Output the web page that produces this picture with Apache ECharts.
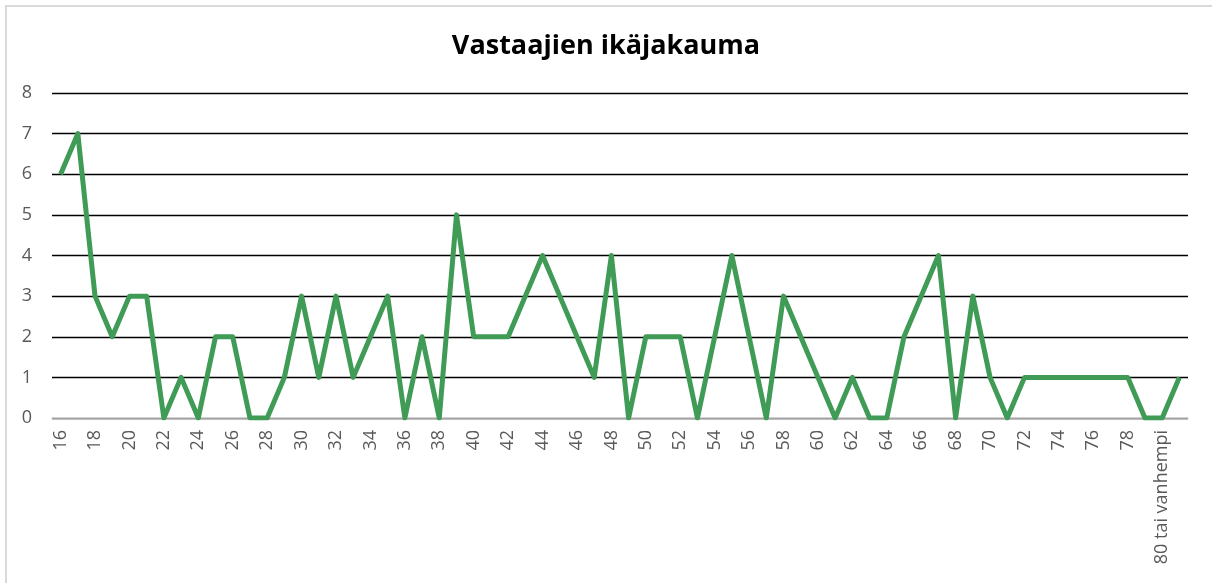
<!DOCTYPE html>
<html>
<head>
<meta charset="utf-8">
<title>Vastaajien ikäjakauma</title>
<script src="https://cdn.jsdelivr.net/npm/echarts@6/dist/echarts.min.js"></script>
<style>
  html, body { margin: 0; padding: 0; background: #fff; overflow: hidden; }
  .frame {
    position: absolute; left: 5px; top: 5px; width: 1300px; height: 700px;
    border-top: 2px solid #d9d9d9; border-left: 2px solid #d9d9d9;
  }
  #chart { position: absolute; left: 0; top: 0; width: 1212px; height: 583px; }
</style>
</head>
<body>
<div class="frame"></div>
<div id="chart"></div>
<script>
// ikäryhmät 16..79, "80 tai vanhempi" ja viimeinen (nimetön) luokka
const ages = []
for (let a = 16; a <= 79; a++) ages.push(String(a))
const categories = ages.concat(['80 tai vanhempi', ''])

const counts = [
  6, 7, 3, 2, 3, 3, 0, 1, 0, 2,
  2, 0, 0, 1, 3, 1, 3, 1, 2, 3,
  0, 2, 0, 5, 2, 2, 2, 3, 4, 3,
  2, 1, 4, 0, 2, 2, 2, 0, 2, 4,
  2, 0, 3, 2, 1, 0, 1, 0, 0, 2,
  3, 4, 0, 3, 1, 0, 1, 1, 1, 1,
  1, 1, 1, 0, 0, 1
]

const yTicks = { min: 0, max: 8, interval: 1 }

const chart = echarts.init(document.getElementById('chart'))
chart.setOption({
  animation: false,
  title: {
    text: 'Vastaajien ikäjakauma',
    left: 'center',
    top: 28,
    textStyle: {
      fontFamily: 'Open Sans',
      fontWeight: 'bold',
      fontSize: 27,
      color: '#000'
    }
  },
  grid: {
    left: 52,
    right: 24,
    top: 93,
    height: 325
  },
  xAxis: {
    type: 'category',
    data: categories,
    boundaryGap: true,
    axisLine: { show: true, lineStyle: { color: '#d9d9d9', width: 1.5 } },
    axisTick: { show: false },
    axisLabel: {
      interval: 1,
      rotate: 90,
      margin: 12,
      fontFamily: 'Open Sans',
      fontSize: 18,
      color: '#595959'
    },
    splitLine: { show: false }
  },
  yAxis: {
    type: 'value',
    min: yTicks.min,
    max: yTicks.max,
    interval: yTicks.interval,
    axisLine: { show: false },
    axisTick: { show: false },
    axisLabel: {
      margin: 20,
      fontFamily: 'Open Sans',
      fontSize: 18,
      color: '#595959'
    },
    splitLine: { show: true, lineStyle: { color: '#000', width: 1.3 } }
  },
  series: [
    {
      name: 'Vastaajat',
      type: 'line',
      data: counts,
      symbol: 'none',
      lineStyle: { color: '#3f9b55', width: 5, join: 'round' },
      z: 3
    }
  ]
})
</script>
</body>
</html>
